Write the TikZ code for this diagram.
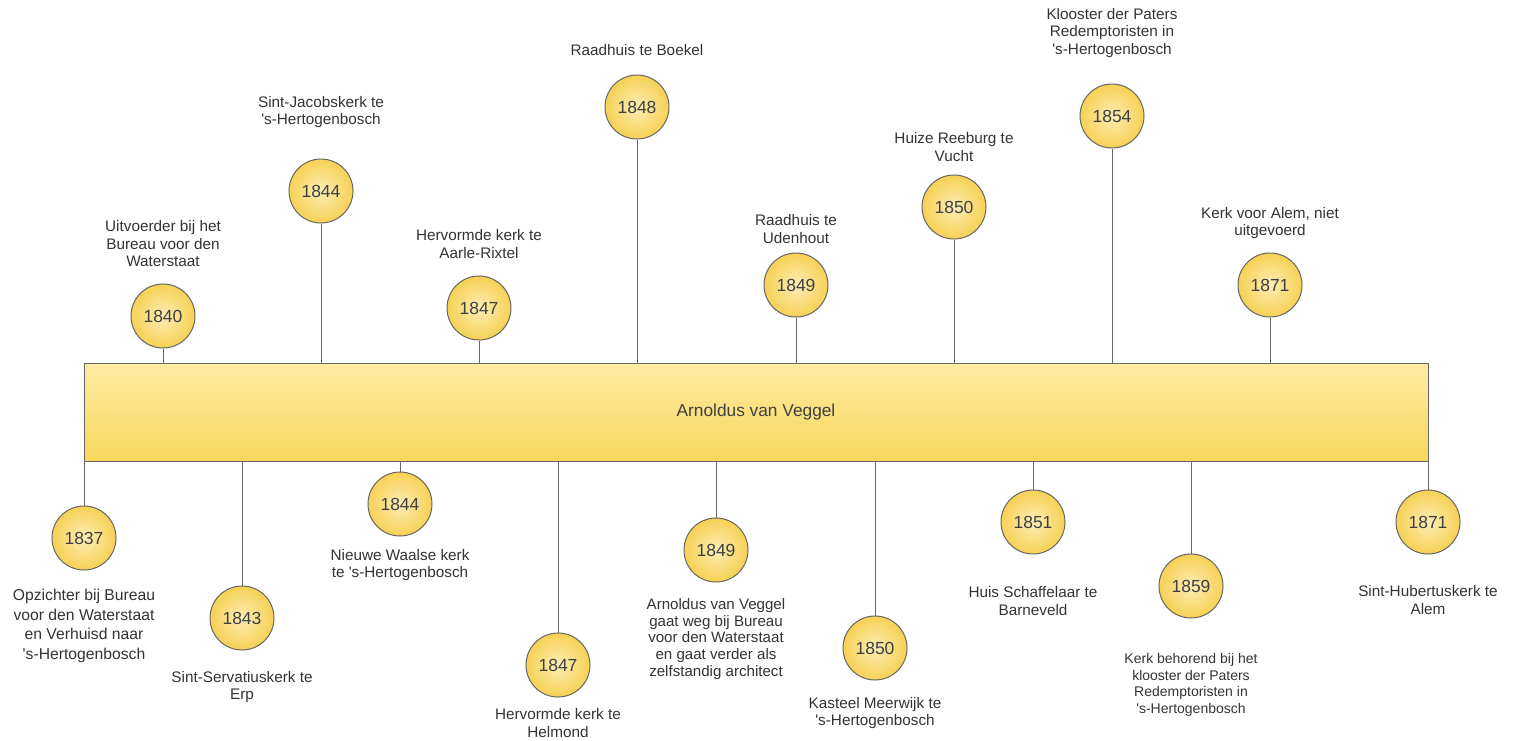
\documentclass[tikz,border=0pt]{standalone}
\usepackage{fontspec}
\setmainfont{Liberation Sans}
\usetikzlibrary{shapes.geometric}
\definecolor{txt}{HTML}{333333}
\definecolor{yeartxt}{HTML}{404040}
\definecolor{edge}{HTML}{666666}
\definecolor{barTop}{HTML}{FDEBA2}
\definecolor{barBot}{HTML}{F8D75C}
\definecolor{circIn}{HTML}{FCEDB6}
\definecolor{circOut}{HTML}{F6D153}
\newcommand{\apo}{\textquotesingle}
\tikzset{
  yearcirc/.style={circle, draw=edge, line width=1pt, minimum size=64pt, inner sep=0pt,
    inner color=circIn, outer color=circOut, text=yeartxt, font=\fontsize{17.5}{20}\selectfont},
  evlabel/.style={align=center, text=txt, inner sep=0pt, font=\fontsize{15.3}{17.5}\selectfont},
  stem/.style={draw=edge, line width=1pt},
  mainbar/.style={draw=edge, line width=1pt, top color=barTop, bottom color=barBot,
    minimum width=1344pt, minimum height=98pt, inner sep=0pt, text=yeartxt,
    font=\fontsize{17.3}{20}\selectfont}
}
\begin{document}
\begin{tikzpicture}[x=1pt,y=-1pt]
\useasboundingbox (0,0) rectangle (1513,740);
\node[mainbar] (bar) at (756,412) {Arnoldus van Veggel};
% top events
\node[yearcirc] (t1) at (163,316) {1840};
\node[evlabel] (lt1) at (163,244) {Uitvoerder bij het\\Bureau voor den\\Waterstaat};
\node[yearcirc] (t2) at (321,191) {1844};
\node[evlabel] (lt2) at (321,112) {Sint-Jacobskerk te\\\apo s-Hertogenbosch};
\node[yearcirc] (t3) at (479,308) {1847};
\node[evlabel] (lt3) at (479,244) {Hervormde kerk te\\Aarle-Rixtel};
\node[yearcirc] (t4) at (637,107) {1848};
\node[evlabel] (lt4) at (637,50) {Raadhuis te Boekel};
\node[yearcirc] (t5) at (796,285) {1849};
\node[evlabel] (lt5) at (796,229) {Raadhuis te\\Udenhout};
\node[yearcirc] (t6) at (954,207) {1850};
\node[evlabel] (lt6) at (954,147) {Huize Reeburg te\\Vucht};
\node[yearcirc] (t7) at (1112,116) {1854};
\node[evlabel] (lt7) at (1112,33) {Klooster der Paters\\Redemptoristen in\\\apo s-Hertogenbosch};
\node[yearcirc] (t8) at (1270,285) {1871};
\node[evlabel] (lt8) at (1270,223) {Kerk voor Alem, niet\\uitgevoerd};
\foreach \n in {t1,t2,t3,t4,t5,t6,t7,t8}
  \draw[stem] (\n.south) -- (\n.south |- bar.north);
% bottom events
\node[yearcirc] (b1) at (84,538) {1837};
\node[evlabel, font=\fontsize{15.7}{19.5}\selectfont] (lb1) at (84,626) {Opzichter bij Bureau\\voor den Waterstaat\\en Verhuisd naar\\\apo s-Hertogenbosch};
\node[yearcirc] (b2) at (242,618) {1843};
\node[evlabel] (lb2) at (242,687) {Sint-Servatiuskerk te\\Erp};
\node[yearcirc] (b3) at (400,504) {1844};
\node[evlabel] (lb3) at (400,565) {Nieuwe Waalse kerk\\te \apo s-Hertogenbosch};
\node[yearcirc] (b4) at (558,665) {1847};
\node[evlabel] (lb4) at (558,723) {Hervormde kerk te\\Helmond};
\node[yearcirc] (b5) at (716,550) {1849};
\node[evlabel, font=\fontsize{15.1}{16.8}\selectfont] (lb5) at (716,639) {Arnoldus van Veggel\\gaat weg bij Bureau\\voor den Waterstaat\\en gaat verder als\\zelfstandig architect};
\node[yearcirc] (b6) at (875,648) {1850};
\node[evlabel] (lb6) at (875,713) {Kasteel Meerwijk te\\\apo s-Hertogenbosch};
\node[yearcirc] (b7) at (1033,522) {1851};
\node[evlabel] (lb7) at (1033,601) {Huis Schaffelaar te\\Barneveld};
\node[yearcirc] (b8) at (1191,586) {1859};
\node[evlabel, font=\fontsize{14}{16.5}\selectfont] (lb8) at (1191,685) {Kerk behorend bij het\\klooster der Paters\\Redemptoristen in\\\apo s-Hertogenbosch};
\node[yearcirc] (b9) at (1428,522) {1871};
\node[evlabel] (lb9) at (1428,600) {Sint-Hubertuskerk te\\Alem};
\foreach \n in {b1,b2,b3,b4,b5,b6,b7,b8,b9}
  \draw[stem] (\n.north) -- (\n.north |- bar.south);
\end{tikzpicture}
\end{document}
